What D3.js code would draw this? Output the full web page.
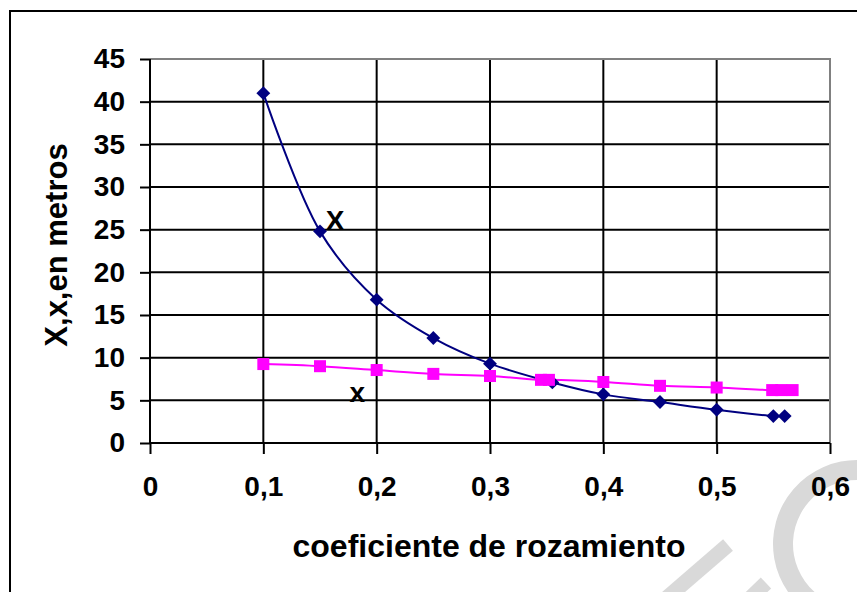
<!DOCTYPE html>
<html>
<head>
<meta charset="utf-8">
<script src="https://cdn.jsdelivr.net/npm/d3@7"></script>
<style>
  html, body { margin: 0; padding: 0; background: #fff; }
  svg { display: block; font-family: "Liberation Sans", Arial, sans-serif; font-weight: bold; }
</style>
</head>
<body>
<svg id="chart" width="857" height="592"></svg>
<script>
// ---- data ----
const xBigX = [0.1, 0.15, 0.2, 0.25, 0.3, 0.355, 0.4, 0.45, 0.5, 0.55, 0.56];
const yBigX = [41, 24.8, 16.8, 12.3, 9.3, 7.1, 5.7, 4.8, 3.9, 3.15, 3.15];
const xSmallX = [0.1, 0.15, 0.2, 0.25, 0.3, 0.345, 0.352, 0.4, 0.45, 0.5, 0.549, 0.557, 0.567];
const ySmallX = [9.25, 9.0, 8.55, 8.1, 7.85, 7.4, 7.4, 7.15, 6.7, 6.5, 6.2, 6.2, 6.2];
const xTicks = [0, 0.1, 0.2, 0.3, 0.4, 0.5, 0.6];
const xTickLabels = ["0", "0,1", "0,2", "0,3", "0,4", "0,5", "0,6"];
const yTicks = [0, 5, 10, 15, 20, 25, 30, 35, 40, 45];
const seriesLabels = [
  { text: "X", x: 0.155, y: 25 },
  { text: "x", x: 0.176, y: 4.8 }
];
const xTitle = "coeficiente de rozamiento";
const yTitle = "X,x,en metros";

// ---- layout ----
const svg = d3.select("#chart");
const L = 150, R = 830, T = 59, B = 443;
const x = d3.scaleLinear().domain([0, 0.6]).range([L, R]);
const y = d3.scaleLinear().domain([0, 45]).range([B, T]);

// watermark (decorative, light grey)
const wm = svg.append("g").attr("fill", "none").attr("stroke", "#d9d9d9");
wm.append("path")
  .attr("transform", "translate(857,544)")
  .attr("stroke", "none").attr("fill", "#d9d9d9")
  .attr("d", d3.arc().innerRadius(64).outerRadius(84).startAngle(-Math.PI * 1.05).endAngle(0.25)());
wm.append("line").attr("x1", 728).attr("y1", 545).attr("x2", 662).attr("y2", 602).attr("stroke-width", 15);
wm.append("line").attr("x1", 766).attr("y1", 583).attr("x2", 742).attr("y2", 606).attr("stroke-width", 15);

// outer frame
svg.append("rect").attr("x", 10).attr("y", 11).attr("width", 1000).attr("height", 1000)
  .attr("fill", "none").attr("stroke", "#000").attr("stroke-width", 2);

// gridlines
const grid = svg.append("g").attr("stroke", "#000").attr("stroke-width", 2);
grid.selectAll(".hg").data(yTicks.filter(d => d > 0 && d < 45)).enter().append("line")
  .attr("x1", L).attr("x2", R).attr("y1", d => y(d)).attr("y2", d => y(d));
grid.selectAll(".vg").data(xTicks.filter(d => d > 0 && d < 0.6)).enter().append("line")
  .attr("y1", T).attr("y2", B).attr("x1", d => x(d)).attr("x2", d => x(d));

// plot border (grey top/right)
svg.append("path").attr("fill", "none").attr("stroke", "#808080").attr("stroke-width", 2)
  .attr("d", `M${L},${T}H${R}V${B}`);

// axes
const yAxis = d3.axisLeft(y).tickValues(yTicks).tickSize(10).tickPadding(15).tickFormat(d3.format("d"));
const gy = svg.append("g").attr("transform", `translate(${L},0)`).call(yAxis);
const xAxis = d3.axisBottom(x).tickValues(xTicks).tickSize(11).tickPadding(22)
  .tickFormat((d, i) => xTickLabels[i]);
const gx = svg.append("g").attr("transform", `translate(0,${B})`).call(xAxis);
[gx, gy].forEach(g => {
  g.selectAll(".domain").attr("stroke", "#000").attr("stroke-width", 2);
  g.selectAll(".tick line").attr("stroke", "#000").attr("stroke-width", 2);
  g.selectAll(".tick text").attr("fill", "#000").style("font-size", "28px")
    .style("font-family", "'Liberation Sans', Arial, sans-serif").style("font-weight", "bold");
});
gx.select(".domain").attr("d", `M${L},0H${R}`);
gy.select(".domain").attr("d", `M0,${T}V${B}`);

// series lines
const line = d3.line().x(d => x(d[0])).y(d => y(d[1])).curve(d3.curveCatmullRom.alpha(0.5));
const dBig = xBigX.map((v, i) => [v, yBigX[i]]);
const dSmall = xSmallX.map((v, i) => [v, ySmallX[i]]);

svg.append("path").datum(dSmall).attr("fill", "none").attr("stroke", "#FF00FF").attr("stroke-width", 2).attr("d", line);
svg.append("path").datum(dBig).attr("fill", "none").attr("stroke", "#000080").attr("stroke-width", 2).attr("d", line);

// markers
const diamond = d3.symbol().type(d3.symbolSquare).size(96);
svg.selectAll(".dm").data(dBig).enter().append("path")
  .attr("d", diamond)
  .attr("transform", d => `translate(${x(d[0])},${y(d[1])}) rotate(45)`)
  .attr("fill", "#000080");
svg.selectAll(".sq").data(dSmall).enter().append("rect")
  .attr("x", d => x(d[0]) - 6).attr("y", d => y(d[1]) - 6)
  .attr("width", 12).attr("height", 12).attr("fill", "#FF00FF");

// series labels
svg.selectAll(".sl").data(seriesLabels).enter().append("text")
  .attr("x", d => x(d.x)).attr("y", d => y(d.y))
  .style("font-size", "28px").attr("fill", "#000").text(d => d.text);

// axis titles
svg.append("text").attr("x", 489).attr("y", 557).attr("text-anchor", "middle")
  .style("font-size", "32px").attr("fill", "#000").text(xTitle);
svg.append("text").attr("transform", "translate(67,245) rotate(-90)").attr("text-anchor", "middle")
  .style("font-size", "31px").attr("fill", "#000").text(yTitle);
</script>
</body>
</html>
